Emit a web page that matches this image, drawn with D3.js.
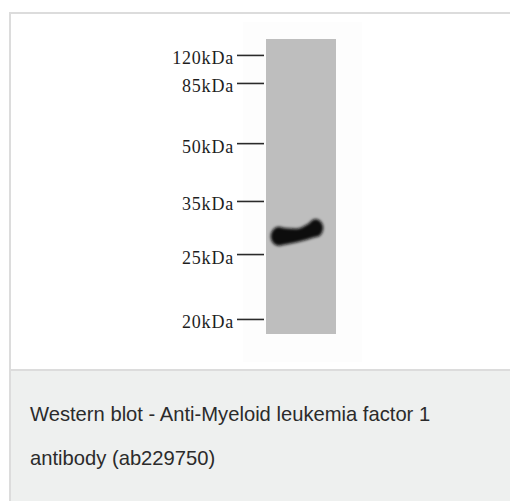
<!DOCTYPE html>
<html>
<head>
<meta charset="utf-8">
<script src="https://cdn.jsdelivr.net/npm/d3@7"></script>
<style>
    body { margin: 0; background: #fff; }
    svg { display: block; }
</style>
</head>
<body>
<div id="chart"></div>
<script>
// marker ladder, mobility = fraction of lane length from the top of the lane
const markers = ['120kDa', '85kDa', '50kDa', '35kDa', '25kDa', '20kDa'];
const markerMobility = [0.054, 0.149, 0.353, 0.549, 0.729, 0.949];

// band profile across the lane (x = fraction of lane width)
const bandX = [0.18, 0.30, 0.44, 0.58, 0.71];
const bandMobility = [0.669, 0.669, 0.666, 0.655, 0.641];
const bandThickness = [19, 16, 13.5, 15, 18];

const caption = ['Western blot - Anti-Myeloid leukemia factor 1', 'antibody (ab229750)'];

const W = 510, H = 501;

const svg = d3.select('#chart').append('svg')
    .attr('width', W)
    .attr('height', H);

// frame
svg.append('rect').attr('x', 9).attr('y', 12).attr('width', W).attr('height', H)
    .attr('fill', '#fff');
svg.append('rect').attr('x', 9).attr('y', 371).attr('width', W).attr('height', H - 371)
    .attr('fill', '#eef0ef');
svg.append('line').attr('x1', 9).attr('x2', W).attr('y1', 13).attr('y2', 13)
    .attr('stroke', '#dcdcdc').attr('stroke-width', 2);
svg.append('line').attr('x1', 10).attr('x2', 10).attr('y1', 12).attr('y2', H)
    .attr('stroke', '#dcdcdc').attr('stroke-width', 2);
svg.append('line').attr('x1', 9).attr('x2', W).attr('y1', 370).attr('y2', 370)
    .attr('stroke', '#dcdcdc').attr('stroke-width', 2);

// faint blot image background
svg.append('rect').attr('x', 243).attr('y', 22).attr('width', 119).attr('height', 340)
    .attr('fill', '#fdfdfd');

const y = d3.scaleLinear().domain([0, 1]).range([39, 334]);
const x = d3.scaleLinear().domain([0, 1]).range([266, 336]);

// lane
svg.append('rect')
    .attr('x', x(0)).attr('y', y(0))
    .attr('width', x(1) - x(0)).attr('height', y(1) - y(0))
    .attr('fill', '#bebebe');

// band
const defs = svg.append('defs');
defs.append('filter').attr('id', 'blur')
    .attr('x', '-20%').attr('y', '-50%').attr('width', '140%').attr('height', '200%')
    .append('feGaussianBlur').attr('stdDeviation', 1.8);

const band = bandX.map((d, i) => ({ x: d, m: bandMobility[i], t: bandThickness[i] }));
const area = d3.area()
    .x(d => x(d.x))
    .y0(d => y(d.m) - d.t / 2)
    .y1(d => y(d.m) + d.t / 2)
    .curve(d3.curveMonotoneX);

const g = svg.append('g').attr('filter', 'url(#blur)');
g.append('path').datum(band).attr('d', area).attr('fill', '#0e0e0e');
g.selectAll('ellipse')
    .data([band[0], band[band.length - 1]])
    .enter()
    .append('ellipse')
        .attr('cx', d => x(d.x))
        .attr('cy', d => y(d.m))
        .attr('rx', d => d.t / 2.4)
        .attr('ry', d => d.t / 2)
        .attr('fill', '#0e0e0e');

// marker axis
const axis = d3.axisLeft(y)
    .tickValues(markerMobility)
    .tickFormat((d, i) => markers[i])
    .tickSize(27)
    .tickPadding(3);

const ax = svg.append('g')
    .attr('transform', `translate(${x(0) - 2},0)`)
    .call(axis);
ax.select('.domain').remove();
ax.selectAll('.tick line').attr('stroke', '#2a2a2a').attr('stroke-width', 1.6);
ax.selectAll('.tick text')
    .attr('fill', '#1e1e1e')
    .attr('dy', '0.5em')
    .style('font-family', '"Liberation Serif", serif')
    .style('font-size', '18px')
    .style('letter-spacing', '0.8px');

// caption
svg.append('g')
    .selectAll('text')
    .data(caption)
    .enter()
    .append('text')
        .attr('x', 30)
        .attr('y', (d, i) => 421 + i * 44)
        .attr('fill', '#2b2b2b')
        .style('font-family', '"Liberation Sans", Arial, sans-serif')
        .style('font-size', '20.2px')
        .text(d => d);
</script>
</body>
</html>
